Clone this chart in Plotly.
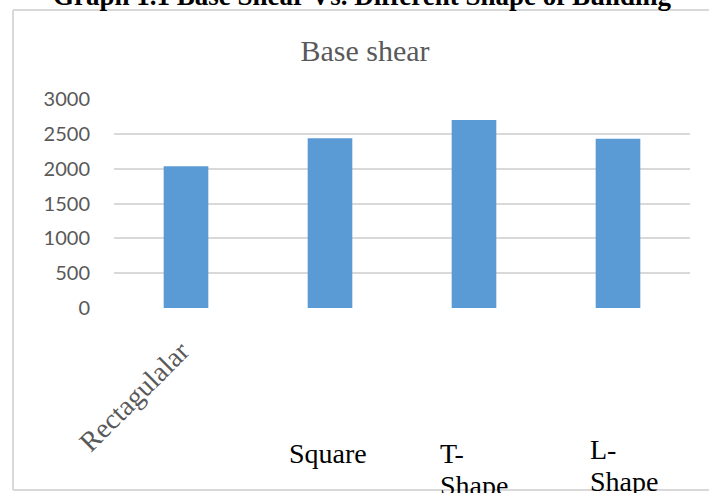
import plotly.graph_objects as go

categories = ["Rectangular", "Square", "T-Shape", "L-Shape"]
base_shear = [2035, 2435, 2700, 2430]
y_ticks = [0, 500, 1000, 1500, 2000, 2500, 3000]

# Plot-area geometry (pixels) used to convert to paper coords
W, H = 709, 493
PL, PR, PT, PB = 114, 690, 99, 308


def py(p):
    return (PB - p) / (PB - PT)


def px(p):
    return (p - PL) / (PR - PL)


fig = go.Figure(go.Bar(
    x=categories, y=base_shear,
    marker=dict(color="#5B9BD5", line=dict(width=0)),
    width=0.31,
))

serif = "Liberation Serif, Times New Roman, serif"
black = dict(family=serif, size=28, color="#000000")
annotations = [
    dict(text="<b>Graph 1.1 Base Shear Vs. Different Shape of Building</b>",
         xref="paper", yref="paper", x=px(362), y=py(-4), xanchor="center", yanchor="middle",
         showarrow=False, font=dict(family=serif, size=27, color="#000000")),
    dict(text="Rectagulalar", xref="x", x=categories[0], xshift=-52, xanchor="center",
         yref="paper", y=py(396), yanchor="middle",
         textangle=-45, showarrow=False, font=dict(family=serif, size=28, color="#595959")),
    dict(text="Square", xref="x", x=categories[1], xshift=-2, xanchor="center", yref="paper", y=py(453),
         yanchor="middle", showarrow=False, font=black),
    dict(text="T-", xref="x", x=categories[2], xshift=-36, xanchor="left", yref="paper", y=py(453),
         yanchor="middle", showarrow=False, font=black),
    dict(text="Shape", xref="x", x=categories[2], xshift=-36, xanchor="left", yref="paper", y=py(485),
         yanchor="middle", showarrow=False, font=black),
    dict(text="L-", xref="x", x=categories[3], xshift=-30, xanchor="left", yref="paper", y=py(449),
         yanchor="middle", showarrow=False, font=black),
    dict(text="Shape", xref="x", x=categories[3], xshift=-30, xanchor="left", yref="paper", y=py(481),
         yanchor="middle", showarrow=False, font=black),
]

border = "#D9D9D9"
shapes = [
    dict(type="line", xref="paper", yref="paper", x0=px(13), x1=px(13), y0=py(10), y1=py(490),
         line=dict(color=border, width=2)),
    dict(type="line", xref="paper", yref="paper", x0=px(13), x1=px(720), y0=py(10), y1=py(10),
         line=dict(color=border, width=2)),
    dict(type="line", xref="paper", yref="paper", x0=px(13), x1=px(720), y0=py(490), y1=py(490),
         line=dict(color=border, width=2)),
]

fig.update_layout(
    width=W, height=H,
    margin=dict(l=PL, r=W - PR, t=PT, b=H - PB),
    paper_bgcolor="white", plot_bgcolor="white",
    showlegend=False,
    title=dict(text="Base shear", x=365 / W, xanchor="center", y=1 - 50 / H, yanchor="middle",
               yref="container", font=dict(family=serif, size=30, color="#595959")),
    xaxis=dict(range=[-0.5, 3.5], autorange=False, showticklabels=False, showgrid=False,
               zeroline=False, showline=False, ticks=""),
    yaxis=dict(range=[0, 3000], autorange=False, tickvals=y_ticks, ticktext=[str(v) for v in y_ticks],
               showgrid=True, gridcolor="#D9D9D9", gridwidth=1.5, zeroline=False, showline=False,
               ticks="", ticklabelstandoff=23,
               tickfont=dict(family="Lato, Open Sans, sans-serif", size=20, color="#595959")),
    annotations=annotations,
    shapes=shapes,
)

fig.write_html("out.html", config={"displayModeBar": False},
               post_script="document.body.style.margin='0';document.body.style.overflow='hidden';")
